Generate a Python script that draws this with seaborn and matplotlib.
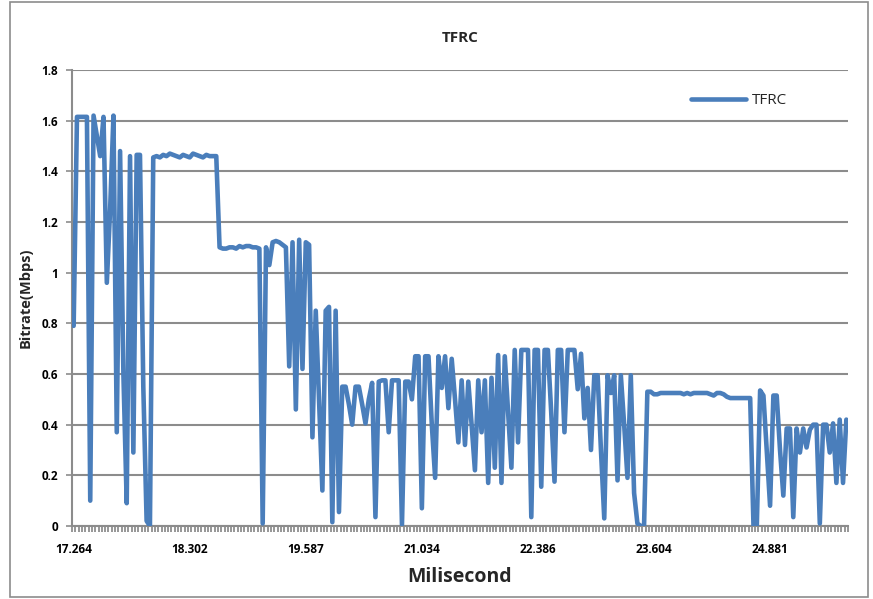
import numpy as np
import pandas as pd
import matplotlib
matplotlib.use("Agg")
import matplotlib.pyplot as plt
import seaborn as sns
from matplotlib.patches import Rectangle
from matplotlib.ticker import FixedLocator

# Bitrate samples (Mbps), one per time step
bitrate = [
    0.79, 1.615, 1.615, 1.615, 1.615, 0.10, 1.62, 1.54, 1.46, 1.615,
    0.96, 1.25, 1.62, 0.37, 1.48, 0.60, 0.09, 1.46, 0.29, 1.465,
    1.465, 0.55, 0.02, 0.00, 1.455, 1.46, 1.455, 1.465, 1.46, 1.47,
    1.465, 1.46, 1.455, 1.465, 1.46, 1.455, 1.47, 1.465, 1.46, 1.455,
    1.465, 1.46, 1.46, 1.46, 1.10, 1.095, 1.095, 1.10, 1.10, 1.095,
    1.105, 1.10, 1.105, 1.105, 1.10, 1.10, 1.095, 0.01, 1.10, 1.03,
    1.12, 1.125, 1.12, 1.11, 1.10, 0.63, 1.12, 0.46, 1.13, 0.62,
    1.12, 1.11, 0.35, 0.85, 0.50, 0.14, 0.85, 0.865, 0.015, 0.85,
    0.055, 0.55, 0.55, 0.48, 0.40, 0.55, 0.55, 0.48, 0.405, 0.50,
    0.565, 0.035, 0.57, 0.575, 0.575, 0.37, 0.575, 0.575, 0.575, 0.005,
    0.57, 0.57, 0.50, 0.67, 0.67, 0.07, 0.67, 0.67, 0.40, 0.19,
    0.67, 0.545, 0.67, 0.465, 0.66, 0.50, 0.33, 0.575, 0.32, 0.57,
    0.40, 0.22, 0.575, 0.37, 0.575, 0.17, 0.585, 0.23, 0.675, 0.17,
    0.67, 0.45, 0.23, 0.695, 0.33, 0.695, 0.695, 0.695, 0.035, 0.695,
    0.695, 0.155, 0.695, 0.695, 0.45, 0.175, 0.695, 0.695, 0.37, 0.695,
    0.695, 0.695, 0.54, 0.68, 0.425, 0.545, 0.30, 0.595, 0.595, 0.30,
    0.03, 0.595, 0.525, 0.595, 0.18, 0.595, 0.40, 0.19, 0.595, 0.13,
    0.01, 0.00, 0.00, 0.53, 0.53, 0.52, 0.52, 0.525, 0.525, 0.525,
    0.525, 0.525, 0.525, 0.525, 0.52, 0.525, 0.52, 0.525, 0.525, 0.525,
    0.525, 0.525, 0.52, 0.515, 0.525, 0.525, 0.52, 0.51, 0.505, 0.505,
    0.505, 0.505, 0.505, 0.505, 0.505, 0.0, 0.0, 0.535, 0.515, 0.30,
    0.08, 0.515, 0.515, 0.30, 0.12, 0.385, 0.385, 0.035, 0.385, 0.29,
    0.385, 0.31, 0.38, 0.40, 0.40, 0.01, 0.40, 0.40, 0.29, 0.405,
    0.17, 0.42, 0.17, 0.42,
]

# Time labels shown on the category axis, one every `label_step` samples
time_labels = ["17.264", "18.302", "19.587", "21.034", "22.386", "23.604", "24.881"]
label_step = 35

y_ticks = [0, 0.2, 0.4, 0.6, 0.8, 1.0, 1.2, 1.4, 1.6, 1.8]
y_tick_labels = ["0", "0.2", "0.4", "0.6", "0.8", "1", "1.2", "1.4", "1.6", "1.8"]

df = pd.DataFrame({"step": np.arange(len(bitrate)), "bitrate": bitrate})

sns.set_theme(style="white")
plt.rcParams["font.family"] = ["Open Sans", "DejaVu Sans"]

W, H = 873, 599
fig = plt.figure(figsize=(W / 100, H / 100), dpi=100)
ax = fig.add_axes([72 / W, 1 - 526 / H, (848 - 72) / W, (526 - 70) / H])

grid_color = "#8c8c8c"
line_color = "#4a7ebb"

sns.lineplot(data=df, x="step", y="bitrate", ax=ax, color=line_color,
             linewidth=3.3, label="TFRC", legend=False,
             solid_joinstyle="round", solid_capstyle="round", zorder=3)

n = len(bitrate)
ax.set_xlim(-0.5, n - 0.5)
ax.set_ylim(0, 1.8)

ax.set_yticks(y_ticks)
ax.set_yticklabels(y_tick_labels, fontsize=8.5, fontweight="bold", color="black")
ax.yaxis.grid(True, color=grid_color, linewidth=1.5)
ax.xaxis.grid(False)

label_pos = [i * label_step for i in range(len(time_labels))]
ax.xaxis.set_major_locator(FixedLocator(label_pos))
ax.set_xticklabels(time_labels, fontsize=8.5, fontweight="bold", color="black")
ax.xaxis.set_minor_locator(FixedLocator(np.arange(n + 1) - 0.5))
ax.tick_params(axis="x", which="major", length=0, pad=12)
ax.tick_params(axis="x", which="minor", length=4, width=1.1, color="#7a7a7a",
               direction="out", bottom=True)
ax.tick_params(axis="y", which="major", length=4, width=1.2, color=grid_color,
               direction="out", left=True, pad=6)

for side in ["top", "right"]:
    ax.spines[side].set_visible(False)
for side in ["left", "bottom"]:
    ax.spines[side].set_color(grid_color)
    ax.spines[side].set_linewidth(1.5)

ax.set_xlabel("Milisecond", fontsize=14, fontweight="bold", labelpad=8)
ax.set_ylabel("Bitrate(Mbps)", fontsize=10.5, fontweight="bold", labelpad=6)
ax.set_title("TFRC", fontsize=11, fontweight="bold", pad=20)

leg = ax.legend(loc="upper left", bbox_to_anchor=(0.78, 0.98), frameon=False,
                fontsize=11, handlelength=3.6, handletextpad=0.4)
for h in leg.get_lines():
    h.set_linewidth(3.3)

# Chart-area border
fig.patches.append(Rectangle((10 / W, 2 / H), (868 - 10) / W, (597 - 2) / H,
                             transform=fig.transFigure, fill=False,
                             edgecolor="#8c8c8c", linewidth=1.2))

fig.savefig("out.png", dpi=100)
